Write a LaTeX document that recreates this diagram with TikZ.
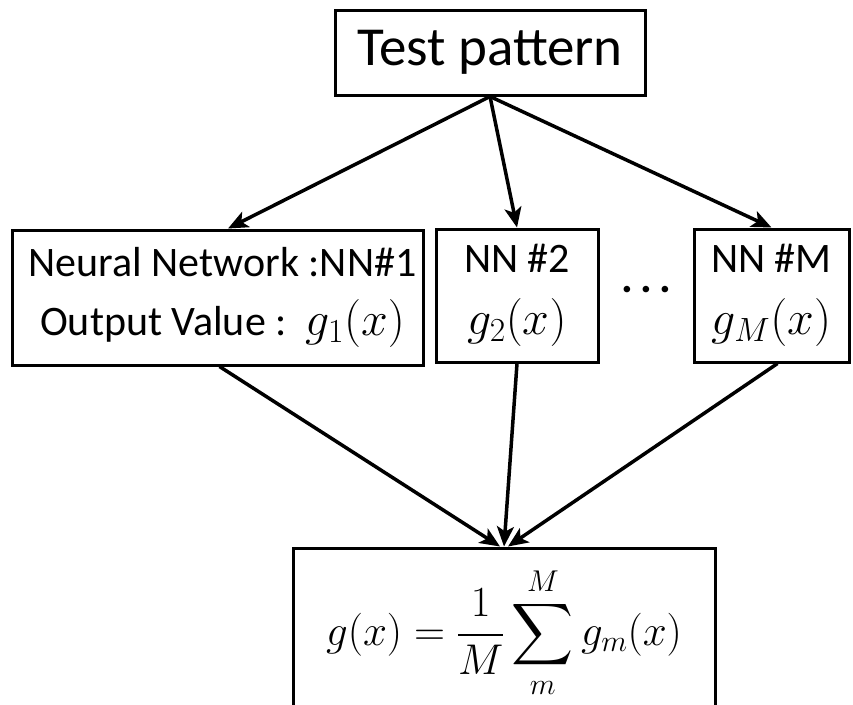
\RequirePackage{fix-cm}
\documentclass[tikz,border=0pt]{standalone}
\usepackage{amsmath}
\usepackage{fontspec}
\setmainfont{Carlito}
% scalable large operators
\DeclareFontFamily{OMX}{cmex}{}
\DeclareFontShape{OMX}{cmex}{m}{n}{<->cmex10}{}
\usetikzlibrary{arrows.meta}
\newcommand{\bigmath}[1]{{\fontsize{48}{52}\selectfont$#1$}}
\tikzset{
  box/.style={draw, line width=3pt, inner sep=0pt, align=center,
    font=\fontsize{42}{59}\selectfont},
  link/.style={line width=3.5pt, -{Stealth[length=20pt,width=17pt,inset=5pt]}}
}
\begin{document}
\begin{tikzpicture}[x=1pt,y=-1pt]
  \clip (0,0) rectangle (853,704);
  % input
  \node[box, minimum width=310pt, minimum height=85pt,
        font=\fontsize{55}{64}\selectfont] (test) at (490,52.5) {Test pattern};
  % ensemble members
  \node[box, minimum width=411pt, minimum height=135pt] (nn1) at (217.5,297.5)
    {\hspace*{10pt}Neural Network :NN\#1\\\hspace*{10pt}Output Value :\ \ \bigmath{g_1(x)}};
  \node[box, minimum width=162pt, minimum height=133pt,
        font=\fontsize{42}{62}\selectfont] (nn2) at (517,295.5)
    {NN \#2\\\bigmath{g_2(x)}};
  \node[box, minimum width=155pt, minimum height=133pt,
        font=\fontsize{42}{62}\selectfont] (nnM) at (771.5,295.5)
    {NN \#M\\\bigmath{g_M(x)}};
  \node[font=\fontsize{44}{48}\bfseries] (dots) at (646,290) {.\,.\,.};
  % averaged output
  \node[box, minimum width=422pt, minimum height=170pt,
        font=\fontsize{43}{50}\selectfont] (avg) at (504,633)
    {$\displaystyle g(x)=\frac{1}{M}\sum_{m}^{M} g_m(x)$};
  % connectors
  \draw[link] (test.south) -- ([xshift=10.5pt]nn1.north);
  \draw[link] (test.south) -- (nn2.north);
  \draw[link] (test.south) -- (nnM.north);
  \draw[link] ([xshift=2pt]nn1.south) -- ([xshift=-4pt]avg.north);
  \draw[link] (nn2.south) -- (avg.north);
  \draw[link] ([xshift=6pt]nnM.south) -- ([xshift=4pt]avg.north);
\end{tikzpicture}
\end{document}
